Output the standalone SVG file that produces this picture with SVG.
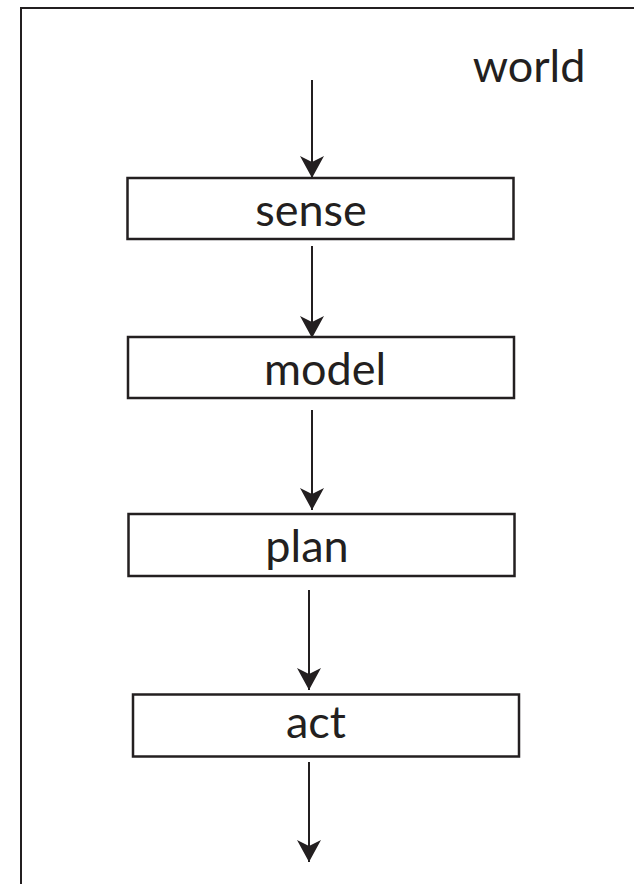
<svg xmlns="http://www.w3.org/2000/svg" width="634" height="884" viewBox="0 0 634 884">
<style>
.frame{fill:none;stroke:#231f20;stroke-width:2}
.box{fill:#fff;stroke:#231f20;stroke-width:2.5}
.lbl{font-family:Lato,"Open Sans","Liberation Sans",sans-serif;font-size:45px;fill:#231f20;text-anchor:middle}
.edge{stroke:#231f20;stroke-width:2;fill:none;marker-end:url(#ah)}
</style>
<defs>
<marker id="ah" viewBox="0 0 24 24" refX="22" refY="12" markerWidth="24" markerHeight="24" markerUnits="userSpaceOnUse" orient="auto">
<path d="M0,0 L22,12 L0,24 L6,12 Z" fill="#231f20"/>
</marker>
</defs>
<rect width="634" height="884" fill="#fff"/>
<path class="frame" d="M21,884 V8 H634"/>
<text class="lbl" x="529" y="82">world</text>
<g id="sense"><rect class="box" x="127.5" y="178" width="386" height="61"/><text class="lbl" x="311" y="226">sense</text></g>
<g id="model"><rect class="box" x="128" y="337" width="386" height="61"/><text class="lbl" x="325" y="385">model</text></g>
<g id="plan"><rect class="box" x="128.5" y="514" width="386" height="62"/><text class="lbl" x="307" y="562">plan</text></g>
<g id="act"><rect class="box" x="133" y="694.5" width="386" height="62"/><text class="lbl" x="316" y="738">act</text></g>
<g id="connectors">
<line class="edge" x1="312" y1="80" x2="312" y2="178"/>
<line class="edge" x1="312" y1="246" x2="312" y2="338"/>
<line class="edge" x1="312" y1="410" x2="312" y2="510"/>
<line class="edge" x1="309" y1="590" x2="309" y2="690"/>
<line class="edge" x1="309" y1="762" x2="309" y2="862"/>
</g>
</svg>
